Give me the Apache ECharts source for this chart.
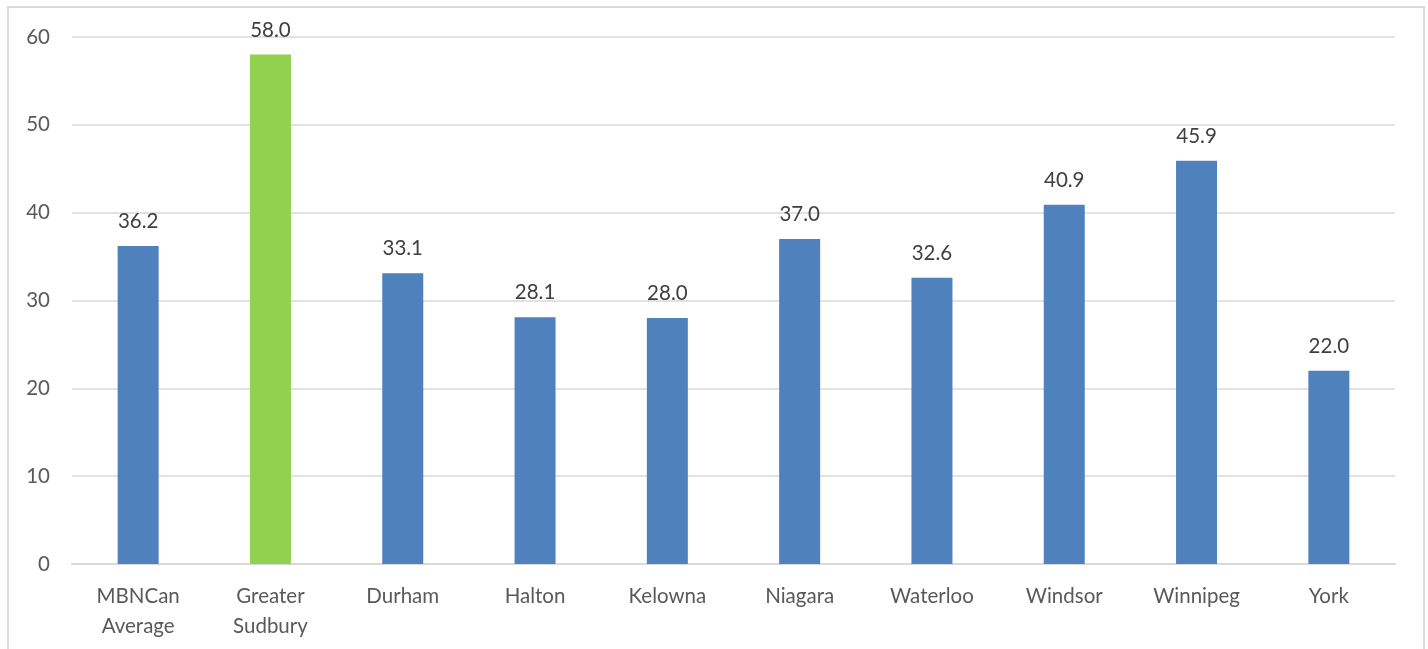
<!DOCTYPE html>
<html>
<head>
<meta charset="utf-8">
<style>
  html, body { margin: 0; padding: 0; background: #fff; }
  #chart { width: 1428px; height: 649px; }
</style>
<script src="https://cdn.jsdelivr.net/npm/echarts@6/dist/echarts.min.js"></script>
</head>
<body>
<div id="chart"></div>
<script>
// Municipalities compared, with the highlighted one drawn in green
const categories = ['MBNCan\nAverage', 'Greater\nSudbury', 'Durham', 'Halton', 'Kelowna', 'Niagara', 'Waterloo', 'Windsor', 'Winnipeg', 'York'];
const values = [36.2, 58.0, 33.1, 28.1, 28.0, 37.0, 32.6, 40.9, 45.9, 22.0];
const highlighted = 'Greater\nSudbury';

const BLUE = '#4f81bd';
const GREEN = '#92d050';
const FONT = 'Lato, "Open Sans", sans-serif';
const FONT_SIZE = 20.5;

const chart = echarts.init(document.getElementById('chart'), null, { renderer: 'canvas' });

chart.setOption({
  animation: false,
  backgroundColor: '#ffffff',
  graphic: [{
    type: 'rect',
    shape: { x: 8, y: 7, width: 1416, height: 660 },
    style: { fill: 'none', stroke: '#d9d9d9', lineWidth: 2 },
    silent: true
  }],
  grid: { left: 72, right: 33, top: 37, bottom: 85 },
  xAxis: {
    type: 'category',
    data: categories,
    axisLine: { lineStyle: { color: '#d9d9d9', width: 2 } },
    axisTick: { show: false },
    axisLabel: {
      color: '#595959',
      fontFamily: FONT,
      fontSize: FONT_SIZE,
      lineHeight: 30,
      margin: 17,
      interval: 0
    }
  },
  yAxis: {
    type: 'value',
    min: 0,
    max: 60,
    interval: 10,
    axisLine: { show: false },
    axisTick: { show: false },
    splitLine: { lineStyle: { color: '#d9d9d9', width: 1.5 } },
    axisLabel: {
      color: '#595959',
      fontFamily: FONT,
      fontSize: FONT_SIZE,
      margin: 22
    }
  },
  series: [{
    type: 'bar',
    barWidth: 41,
    data: values.map((v, i) => ({
      value: v,
      itemStyle: { color: categories[i] === highlighted ? GREEN : BLUE }
    })),
    label: {
      show: true,
      position: 'top',
      distance: 14,
      color: '#404040',
      fontFamily: FONT,
      fontSize: FONT_SIZE,
      formatter: p => p.value.toFixed(1)
    }
  }]
});
</script>
</body>
</html>
